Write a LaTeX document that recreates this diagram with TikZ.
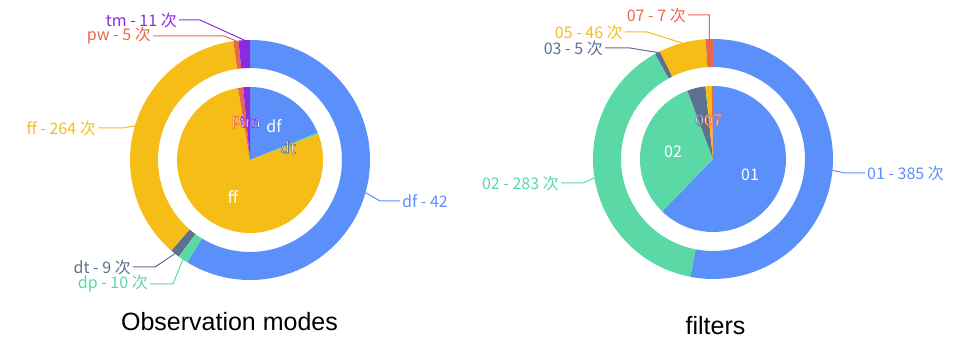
\documentclass[tikz,border=0pt]{standalone}
\usepackage{fontspec}
\setmainfont{Liberation Sans}
\newfontfamily\cjk{Noto Sans CJK SC}
\usetikzlibrary{positioning}

\definecolor{cblue}{HTML}{5B8FF9}
\definecolor{cgreen}{HTML}{5AD8A6}
\definecolor{cgray}{HTML}{5D7092}
\definecolor{cyellow}{HTML}{F6BD16}
\definecolor{cred}{HTML}{E8684A}
\definecolor{cpurple}{HTML}{8A2BE2}

% ring piece: centre, from, to (degrees clockwise from top), colour
\newcommand{\ringpart}[4]{\fill[#4] ([shift={({90-#2}:120)}]#1) arc[start angle={90-#2}, end angle={90-#3}, radius=120pt] -- ([shift={({90-#3}:92)}]#1) arc[start angle={90-#3}, end angle={90-#2}, radius=92pt] -- cycle;}
% pie piece: centre, from, to, colour
\newcommand{\piepart}[4]{\fill[#4] (#1) -- ([shift={({90-#2}:73)}]#1) arc[start angle={90-#2}, end angle={90-#3}, radius=73pt] -- cycle;}
% white text with a coloured rim (rgb of the rim, text)
\newcommand{\rimtext}[2]{\textcolor{white}{\special{pdf:literal direct #1 RG 2 Tr 0.6 w}#2\special{pdf:literal direct 0 Tr}}}

\begin{document}
\begin{tikzpicture}[x = 1pt, y = 1pt, % one unit = one pixel
                lbl/.style = {font = \fontsize{16}{18}\selectfont\cjk, inner sep = 2pt},
                inlbl/.style = {font = \fontsize{16}{18}\selectfont\cjk, text = white, inner sep = 0pt},
                lead/.style = {line width = 1pt},
                ttl/.style = {font = \fontsize{25}{28}\selectfont}
            ]
            \useasboundingbox (0,0) rectangle (967,340);

            \coordinate (L) at (250,180); \coordinate (R) at (713,181);

            % observation modes
            \foreach \a/\b/\c in {0/211.5/cblue, 211.5/216.5/cgreen, 216.5/221/cgray,
                221/352/cyellow, 352/354.5/cred, 354.5/360/cpurple}
                {\ringpart{L}{\a}{\b}{\c}}
            \foreach \a/\b/\c in {0/68/cblue, 68/69.3/cgreen, 69.3/350.5/cyellow,
                350.5/354.6/cred, 354.6/360/cpurple}
                {\piepart{L}{\a}{\b}{\c}}

            \node[inlbl] (dfI) at (274,214) {df};
            \node[inlbl] (ffI) at (233,143) {ff};
            \node[inlbl] (dtI) at (288,193) {\rimtext{0.36 0.44 0.57}{dt}};
            \node[inlbl] (pwI) at (236.5,218) {\rimtext{0.91 0.41 0.29}{p}};
            \node[inlbl] (tmI) at (250,218) {\rimtext{0.54 0.17 0.89}{tm}};

            \node[lbl, text = cpurple, anchor = east] (tmL) at (179,320) {tm - 11 次};
            \node[lbl, text = cred, anchor = east] (pwL) at (153,304) {pw - 5 次};
            \node[lbl, text = cyellow, anchor = east] (ffL) at (98,212) {ff - 264 次};
            \node[lbl, text = cgray, anchor = east] (dtL) at (133,73) {dt - 9 次};
            \node[lbl, text = cgreen, anchor = east] (dpL) at (150,56) {dp - 10 次};
            \node[lbl, text = cblue, anchor = west] (dfL) at (400,139) {df - 42};

            \coordinate (tmP) at ([shift={(92.7:120)}]L);
            \coordinate (pwP) at ([shift={(96.7:120)}]L);
            \coordinate (ffP) at ([shift={(163.5:120)}]L);
            \coordinate (dtP) at ([shift={(-128.7:120)}]L);
            \coordinate (dpP) at ([shift={(-124:120)}]L);
            \coordinate (dfP) at ([shift={(-15.75:120)}]L);

            \draw[lead, cpurple] (tmL.east) -- (200,320) -- (tmP);
            \draw[lead, cred] (pwL.east) -- (224,304) -- (pwP);
            \draw[lead, cyellow] (ffL.east) -- (123,212) -- (ffP);
            \draw[lead, cgray] (dtL.east) -- (155,73) -- (dtP);
            \draw[lead, cgreen] (dpL.east) -- (173,56) -- (dpP);
            \draw[lead, cblue] (dfL.west) -- (380,139) -- (dfP);

            % filters
            \foreach \a/\b/\c in {0/190.9/cblue, 190.9/331.2/cgreen, 331.2/333.7/cgray,
                333.7/356.5/cyellow, 356.5/360/cred}
                {\ringpart{R}{\a}{\b}{\c}}
            \foreach \a/\b/\c in {0/224/cblue, 224/339.5/cgreen, 339.5/354/cgray,
                354/359/cyellow, 359/360/cred}
                {\piepart{R}{\a}{\b}{\c}}

            \node[inlbl] (n02I) at (673,188) {02};
            \node[inlbl] (n01I) at (750,165) {01};
            \node[inlbl] (n03I) at (699.5,220) {\rimtext{0.36 0.44 0.57}{0}};
            \node[inlbl] (n07I) at (713,220) {\rimtext{0.91 0.41 0.29}{07}};

            \node[lbl, text = cred, anchor = east] (n07L) at (688,325) {07 - 7 次};
            \node[lbl, text = cyellow, anchor = east] (n05L) at (625,308) {05 - 46 次};
            \node[lbl, text = cgray, anchor = east] (n03L) at (605,292) {03 - 5 次};
            \node[lbl, text = cgreen, anchor = east] (n02L) at (561,157) {02 - 283 次};
            \node[lbl, text = cblue, anchor = west] (n01L) at (865,167) {01 - 385 次};

            \coordinate (n07P) at ([shift={(91.75:120)}]R);
            \coordinate (n05P) at ([shift={(104.9:120)}]R);
            \coordinate (n03P) at ([shift={(117.45:120)}]R);
            \coordinate (n02P) at ([shift={(-171:120)}]R);
            \coordinate (n01P) at ([shift={(-5.45:120)}]R);

            \draw[lead, cred] (n07L.east) -- (709.4,325) -- (n07P);
            \draw[lead, cyellow] (n05L.east) -- (647,308) -- (n05P);
            \draw[lead, cgray] (n03L.east) -- (630,292) -- (n03P);
            \draw[lead, cgreen] (n02L.east) -- (583,157) -- (n02P);
            \draw[lead, cblue] (n01L.west) -- (845,167) -- (n01P);

            \node[ttl] (tOM) at (229.5,18) {Observation modes};
            \node[ttl] (tF) at (715.5,14) {filters};
        \end{tikzpicture}
\end{document}
